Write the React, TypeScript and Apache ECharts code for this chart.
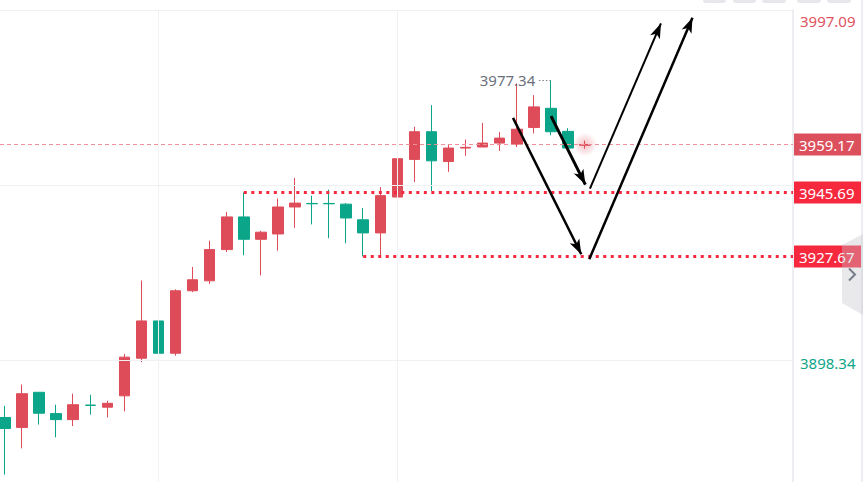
import React, { useEffect, useRef } from 'react';
import * as echarts from 'echarts';

// ---- data ----
const candleOpen = [3882.3, 3879.5, 3889.4, 3883.4, 3881.7, 3885.8, 3885.2, 3888.4, 3899.0, 3909.5, 3900.4, 3918.0, 3920.8, 3929.6, 3938.8, 3932.5, 3934.0, 3941.6, 3942.6, 3942.6, 3942.4, 3938.0, 3934.3, 3944.4, 3955.0, 3962.8, 3954.4, 3958.2, 3958.5, 3959.6, 3959.3, 3964.0, 3969.4, 3962.9, 3959.0];
const candleClose = [3879.2, 3889.0, 3883.5, 3881.7, 3885.9, 3885.7, 3886.3, 3899.3, 3909.5, 3900.4, 3918.0, 3921.1, 3929.6, 3938.8, 3932.5, 3934.5, 3941.6, 3942.7, 3942.5, 3942.5, 3938.5, 3934.3, 3944.8, 3955.2, 3962.8, 3954.6, 3958.2, 3958.4, 3959.6, 3961.0, 3963.5, 3969.8, 3962.8, 3958.2, 3959.17];
const candleLow = [3866.2, 3873.6, 3880.3, 3876.7, 3879.9, 3883.1, 3882.3, 3884.0, 3897.9, 3899.1, 3899.7, 3917.6, 3919.9, 3928.9, 3928.0, 3922.3, 3929.3, 3935.7, 3936.7, 3932.8, 3931.4, 3927.67, 3927.8, 3943.5, 3948.6, 3946.1, 3951.5, 3956.0, 3958.5, 3957.4, 3958.5, 3962.3, 3961.8, 3958.2, 3958.0];
const candleHigh = [3885.6, 3891.6, 3889.4, 3885.9, 3889.0, 3888.7, 3887.0, 3900.2, 3920.9, 3910.0, 3918.4, 3924.7, 3932.1, 3940.2, 3945.69, 3934.9, 3944.0, 3949.8, 3944.8, 3946.5, 3942.7, 3941.3, 3947.2, 3958.7, 3964.2, 3970.3, 3959.1, 3960.6, 3965.3, 3962.7, 3976.4, 3973.1, 3977.34, 3963.8, 3960.3];

const currentPrice = 3959.17;
const upperLevel = 3945.69;
const lowerLevel = 3927.67;
const upperLevelStartIndex = 14;
const lowerLevelStartIndex = 21;
const axisTop = 3997.09;
const axisBottom = 3898.34;
const gridLineValues = [3997.09, 3947.715, 3898.34];
const verticalGridIndices = [9, 23];

// hand-drawn arrows (candle index / price)
const arrowFromX = [29.78, 32.01, 34.29, 34.25];
const arrowFromY = [3966.7, 3967.2, 3946.8, 3926.9];
const arrowToX = [33.78, 34.02, 38.45, 40.3];
const arrowToY = [3928.3, 3947.9, 3993.3, 3994.9];
const arrowWidth = [2.5, 3, 2, 2.5];

// axis extents
const X_MIN = -0.2931;
const X_MAX = 46.193;
const Y_MAX = 3997.09;
const Y_MIN = 3864.13;

const RED = '#de4c59';
const GREEN = '#0ba68a';
const FONT = 'Noto Sans';

export default function App() {
  const ref = useRef<HTMLDivElement>(null);

  useEffect(() => {
    if (!ref.current) return;
    const chart = echarts.init(ref.current, undefined, { renderer: 'svg' });

    const candles = candleOpen.map((o, i) => [i, o, candleClose[i], candleLow[i], candleHigh[i]]);
    let maxIdx = 0;
    candleHigh.forEach((h, i) => { if (h > candleHigh[maxIdx]) maxIdx = i; });
    const maxHigh = candleHigh[maxIdx];
    const lastIdx = candleOpen.length - 1;

    const labelValues = [axisTop, currentPrice, upperLevel, lowerLevel, axisBottom];
    const near = (a: number, b: number) => Math.abs(a - b) < 0.005;

    const option: any = {
      animation: false,
      textStyle: { fontFamily: FONT },
      grid: { left: 0, right: 72, top: 10, bottom: 0 },
      xAxis: {
        type: 'value', min: X_MIN, max: X_MAX, show: false,
        splitLine: { show: false },
      },
      yAxis: {
        type: 'value', position: 'right', min: Y_MIN, max: Y_MAX,
        splitLine: { show: false },
        axisTick: { show: false },
        axisLine: { show: true, onZero: false, lineStyle: { color: '#eceef2', width: 2 } },
        axisLabel: {
          customValues: labelValues,
          showMinLabel: true,
          showMaxLabel: true,
          margin: 1,
          align: 'left',
          formatter: (v: number) => {
            const t = v.toFixed(2);
            if (near(v, axisTop)) return '{top|' + t + '}';
            if (near(v, axisBottom)) return '{bot|' + t + '}';
            if (near(v, currentPrice)) return '{cur|' + t + '}';
            return '{lvl|' + t + '}';
          },
          rich: {
            top: { color: '#e0525f', fontSize: 15, fontFamily: FONT, padding: [22, 0, 0, 6] },
            bot: { color: '#0ea58a', fontSize: 15, fontFamily: FONT, padding: [5, 0, 0, 6] },
            cur: { color: '#fff', fontSize: 15, fontFamily: FONT, lineHeight: 15, backgroundColor: '#dc505d', padding: [4, 5, 3, 5], width: 58 },
            lvl: { color: '#fff', fontSize: 15, fontFamily: FONT, lineHeight: 15, backgroundColor: '#f5283e', padding: [4, 5, 3, 5], width: 58 },
          },
        },
      },
      series: [
        {
          type: 'line', data: [], silent: true, z: 1,
          markLine: {
            silent: true, symbol: ['none', 'none'], label: { show: false },
            lineStyle: { color: '#f1f1f4', width: 1, type: 'solid' },
            data: [
              ...gridLineValues.map((v) => ({ yAxis: v })),
              ...verticalGridIndices.map((x) => ({ xAxis: x })),
            ],
          },
        },
        {
          type: 'line', data: [], silent: true, z: 1,
          markLine: {
            silent: true, symbol: ['none', 'none'], label: { show: false },
            lineStyle: { color: '#ec8f99', width: 1, type: [4, 3] },
            data: [{ yAxis: currentPrice }],
          },
        },
        {
          type: 'line', data: [], silent: true, z: 3,
          markLine: {
            silent: true, symbol: ['none', 'none'], label: { show: false },
            lineStyle: { color: '#f5283e', width: 3, type: [3, 4.5] },
            data: [
              [{ coord: [upperLevelStartIndex, upperLevel] }, { coord: [X_MAX, upperLevel] }],
              [{ coord: [lowerLevelStartIndex, lowerLevel] }, { coord: [X_MAX, lowerLevel] }],
            ],
          },
        },
        {
          type: 'scatter', z: 2, silent: true,
          data: [[lastIdx, currentPrice]],
          symbolSize: 24,
          itemStyle: {
            color: {
              type: 'radial', x: 0.5, y: 0.5, r: 0.5,
              colorStops: [
                { offset: 0, color: 'rgba(226,78,92,0.45)' },
                { offset: 1, color: 'rgba(226,78,92,0)' },
              ],
            },
          },
        },
        {
          type: 'candlestick', z: 2,
          data: candles,
          barWidth: 11,
          itemStyle: { color: RED, color0: GREEN, borderColor: RED, borderColor0: GREEN, borderWidth: 1 },
        },
        {
          type: 'line', data: [], silent: true, z: 4,
          markLine: {
            silent: true, symbol: ['none', 'none'],
            lineStyle: { color: '#7d8290', width: 1.2, type: [1.5, 2] },
            label: {
              show: true, position: 'end', distance: 2,
              color: '#6b707c', fontSize: 15, fontFamily: FONT, padding: [4, 0, 0, 0],
              formatter: () => maxHigh.toFixed(2),
            },
            data: [[{ coord: [maxIdx, maxHigh] }, { coord: [maxIdx - 0.8, maxHigh] }]],
          },
        },
        {
          type: 'line', data: [], silent: true, z: 5,
          markLine: {
            silent: true, symbol: ['none', 'arrow'], symbolSize: [8, 15],
            label: { show: false },
            data: arrowFromX.map((fx, i) => [
              { coord: [fx, arrowFromY[i]], lineStyle: { color: '#000', width: arrowWidth[i], type: 'solid' } },
              { coord: [arrowToX[i], arrowToY[i]] },
            ]),
          },
        },
      ],
      graphic: [
        ...[[703, 23], [733, 23], [762, 24], [797, 24], [827, 24]].map(([x, w]) => ({
          type: 'rect', silent: true, z: 10,
          shape: { x, y: -5, width: w, height: 8, r: 3 },
          style: { fill: '#e6e8ee' },
        })),
        {
          type: 'line', silent: true, z: 9,
          shape: { x1: 862, y1: 0, x2: 862, y2: 482 },
          style: { stroke: '#eceef2', lineWidth: 2 },
        },
        {
          type: 'polygon', silent: true, z: 20,
          shape: { points: [[842, 245], [863, 234], [863, 315], [842, 303]] },
          style: { fill: 'rgba(196,198,206,0.38)' },
        },
        {
          type: 'polyline', silent: true, z: 21,
          shape: { points: [[849, 268.5], [855, 274.5], [849, 280.5]] },
          style: { stroke: '#767c89', lineWidth: 2, fill: 'none' },
        },
      ],
    };

    chart.setOption(option);
    return () => chart.dispose();
  }, []);

  return <div ref={ref} style={{ position: 'absolute', left: 0, top: 0, width: 865, height: 482 }} />;
}
